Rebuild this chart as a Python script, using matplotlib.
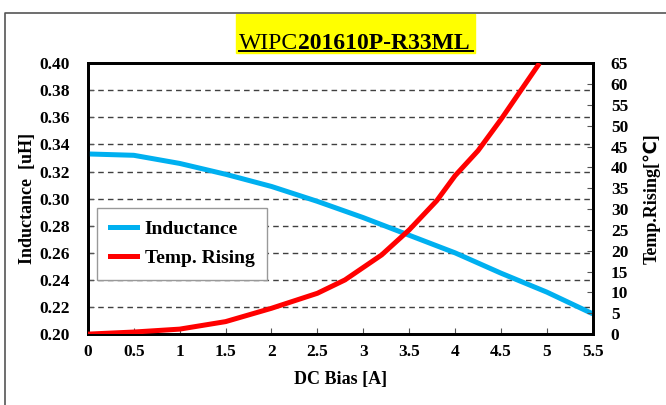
import matplotlib
matplotlib.use("Agg")
import matplotlib.pyplot as plt
from matplotlib.lines import Line2D
from matplotlib.patches import Rectangle

# data
bias_l = [0, 0.5, 1, 1.5, 2, 2.5, 3, 3.5, 4, 4.5, 5, 5.5]
inductance = [0.333, 0.332, 0.326, 0.318, 0.309, 0.298, 0.286, 0.273, 0.260, 0.245, 0.231, 0.215]

bias_t = [0, 0.5, 1, 1.5, 2, 2.5, 2.8, 3.2, 3.5, 3.8, 4.0, 4.25, 4.5, 4.92]
temp_rise = [0, 0.5, 1.2, 3.0, 6.2, 9.8, 13, 19, 25, 32, 38, 44, 51.5, 65]

x_ticks = [0, 0.5, 1, 1.5, 2, 2.5, 3, 3.5, 4, 4.5, 5, 5.5]
x_tick_labels = ["0", "0.5", "1", "1.5", "2", "2.5", "3", "3.5", "4", "4.5", "5", "5.5"]
l_ticks = [0.20, 0.22, 0.24, 0.26, 0.28, 0.30, 0.32, 0.34, 0.36, 0.38, 0.40]
r_ticks = list(range(0, 70, 5))

serif = ["Liberation Serif", "DejaVu Serif"]
plt.rcParams["font.family"] = serif

fig = plt.figure(figsize=(6.66, 4.05), dpi=100)
ax = fig.add_axes([0.132, 0.175, 0.758, 0.669])
ax2 = ax.twinx()

blue = "#00b0f0"
red = "#ff0000"
ax.plot(bias_l, inductance, color=blue, lw=3.6, solid_capstyle="butt", zorder=3)
ax2.plot(bias_t, temp_rise, color=red, lw=3.6, solid_capstyle="butt", zorder=3)

ax.set_xlim(0, 5.5)
ax.set_ylim(0.20, 0.40)
ax2.set_ylim(0, 65)
ax.set_xticks(x_ticks)
ax.set_xticklabels(x_tick_labels)
ax.set_yticks(l_ticks)
ax.set_yticklabels([f"{v:.2f}" for v in l_ticks])
ax2.set_yticks(r_ticks)

ax.yaxis.grid(True, ls=(0, (4, 3)), color="#404040", lw=1.0)
ax.set_axisbelow(True)

for a in (ax, ax2):
    a.tick_params(direction="in", length=4, width=0.8, color="#555555",
                  labelsize=12.5)
    for lab in a.get_xticklabels() + a.get_yticklabels():
        lab.set_fontweight("bold")
    for sp in a.spines.values():
        sp.set_linewidth(2)
        sp.set_color("black")
ax.tick_params(axis="x", pad=7)
ax.tick_params(axis="y", pad=13)
ax2.tick_params(axis="y", pad=13)

ax.set_xlabel("DC Bias [A]", fontsize=13, fontweight="bold", labelpad=8)
ax.set_ylabel("Inductance  [uH]", fontsize=13, fontweight="bold", labelpad=2)
ax2.set_ylabel("Temp.Rising[℃]", fontsize=13, fontweight="bold", labelpad=11,
               family=["Liberation Serif", "DejaVu Sans"])

handles = [Line2D([], [], color=blue, lw=3.6), Line2D([], [], color=red, lw=3.6)]
leg = ax.legend(handles, ["Inductance", "Temp. Rising"], loc="lower left",
                bbox_to_anchor=(0.018, 0.2), borderaxespad=0, fancybox=False,
                framealpha=1, edgecolor="#999999", prop={"weight": "bold", "size": 14},
                handlelength=1.4, borderpad=0.65, labelspacing=0.6, handletextpad=0.4)
leg.get_frame().set_linewidth(1.0)
leg.set_zorder(5)

# title with yellow highlight
fig.patches.append(Rectangle((236 / 666, 1 - 53 / 405), 239 / 666, 39 / 405,
                             transform=fig.transFigure, color="#ffff00", zorder=0))
t1 = fig.text(239 / 666, 1 - 49 / 405, "WIPC", fontsize=17, va="baseline", ha="left")
t2 = fig.text(0, 0, "201610P-R33ML", fontsize=17, fontweight="bold", va="baseline", ha="left")
fig.canvas.draw()
bb = t1.get_window_extent()
t2.set_position((fig.transFigure.inverted().transform((bb.x1, 0))[0], 1 - 49 / 405))
fig.add_artist(Line2D([239 / 666, 473 / 666], [1 - 51 / 405, 1 - 51 / 405],
                      transform=fig.transFigure, color="black", lw=1.4))

# outer frame
fig.add_artist(Line2D([5 / 666, 5 / 666, 1], [0, 1 - 13 / 405, 1 - 13 / 405],
                      transform=fig.transFigure, color="#555555", lw=1.2))

fig.savefig("out.png", dpi=100)
